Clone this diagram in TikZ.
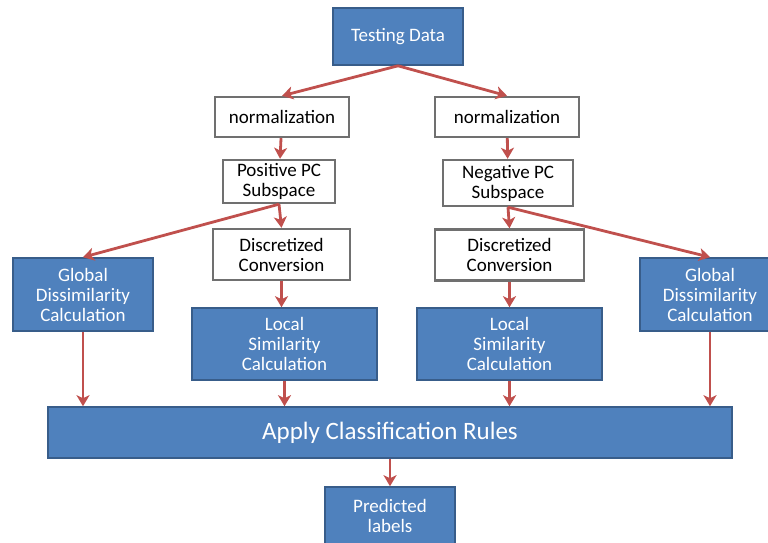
\documentclass[tikz,border=0pt]{standalone}
\usepackage{fontspec}
\setmainfont{Carlito}
\usepackage{tikz}
\usetikzlibrary{arrows.meta}
\definecolor{boxblue}{HTML}{4F81BD}
\definecolor{boxedge}{HTML}{385D8A}
\definecolor{arrred}{HTML}{C0504D}
\definecolor{greyedge}{HTML}{707070}

\begin{document}
\begin{tikzpicture}[x=1pt, y=-1pt,
  every node/.style={font=\fontsize{19}{20}\selectfont, align=center, inner sep=1pt},
  bluebox/.style={draw=boxedge, line width=1.6pt, fill=boxblue, text=white},
  whitebox/.style={draw=greyedge, line width=2.4pt, fill=white, text=black},
  arr/.style={draw=arrred, line width=2.8pt, -{Stealth[length=11pt, width=13pt, inset=3pt]}}]
  \useasboundingbox (0,0) rectangle (768,543);
  \node[bluebox, minimum width=130pt, minimum height=57pt] (test) at (398,36.5) {Testing Data};
  \node[whitebox, minimum width=134pt, minimum height=40pt] (normL) at (282,117) {normalization};
  \node[whitebox, minimum width=144pt, minimum height=40pt] (normR) at (507,117) {normalization};
  \node[whitebox, minimum width=112pt, minimum height=43pt] (posPC) at (279,181.5) {Positive PC\\Subspace};
  \node[whitebox, minimum width=130pt, minimum height=46pt] (negPC) at (508,183) {Negative PC\\Subspace};
  \node[whitebox, minimum width=137pt, minimum height=51pt] (discL) at (281.5,254.5) {Discretized\\Conversion};
  \node[whitebox, minimum width=149pt, minimum height=51pt] (discR) at (509.5,255) {Discretized\\Conversion};
  \node[bluebox, minimum width=140pt, minimum height=73pt] (globL) at (83,294.5) {Global\\Dissimilarity\\Calculation};
  \node[bluebox, minimum width=140pt, minimum height=73pt] (globR) at (710,294.5) {Global\\Dissimilarity\\Calculation};
  \node[bluebox, minimum width=185pt, minimum height=72pt] (locL) at (284.5,344) {Local\\Similarity\\Calculation};
  \node[bluebox, minimum width=185pt, minimum height=72pt] (locR) at (509.5,344) {Local\\Similarity\\Calculation};
  \node[bluebox, minimum width=684pt, minimum height=51pt, font=\fontsize{25}{26}\selectfont] (apply) at (390,432.5) {Apply Classification Rules};
  \node[bluebox, minimum width=130pt, minimum height=58pt] (pred) at (390,516) {Predicted\\labels};
  \draw[arr] (test.south) -- (normL.north);
  \draw[arr] (test.south) -- (normR.north);
  \draw[arr] (normL) -- (posPC);
  \draw[arr] (normR) -- (negPC);
  \draw[arr] (posPC.south) -- (globL.north);
  \draw[arr] (posPC.south) -- (discL.north);
  \draw[arr] (negPC.south) -- (discR.north);
  \draw[arr] (negPC.south) -- (globR.north);
  \draw[arr] (discL.south) -- (discL.south |- locL.north);
  \draw[arr] (discR.south) -- (discR.south |- locR.north);
  \draw[arr] (globL.south) -- (globL.south |- apply.north);
  \draw[arr] (locL.south) -- (locL.south |- apply.north);
  \draw[arr] (locR.south) -- (locR.south |- apply.north);
  \draw[arr] (globR.south) -- (globR.south |- apply.north);
  \draw[arr] (apply) -- (pred);
\end{tikzpicture}
\end{document}
